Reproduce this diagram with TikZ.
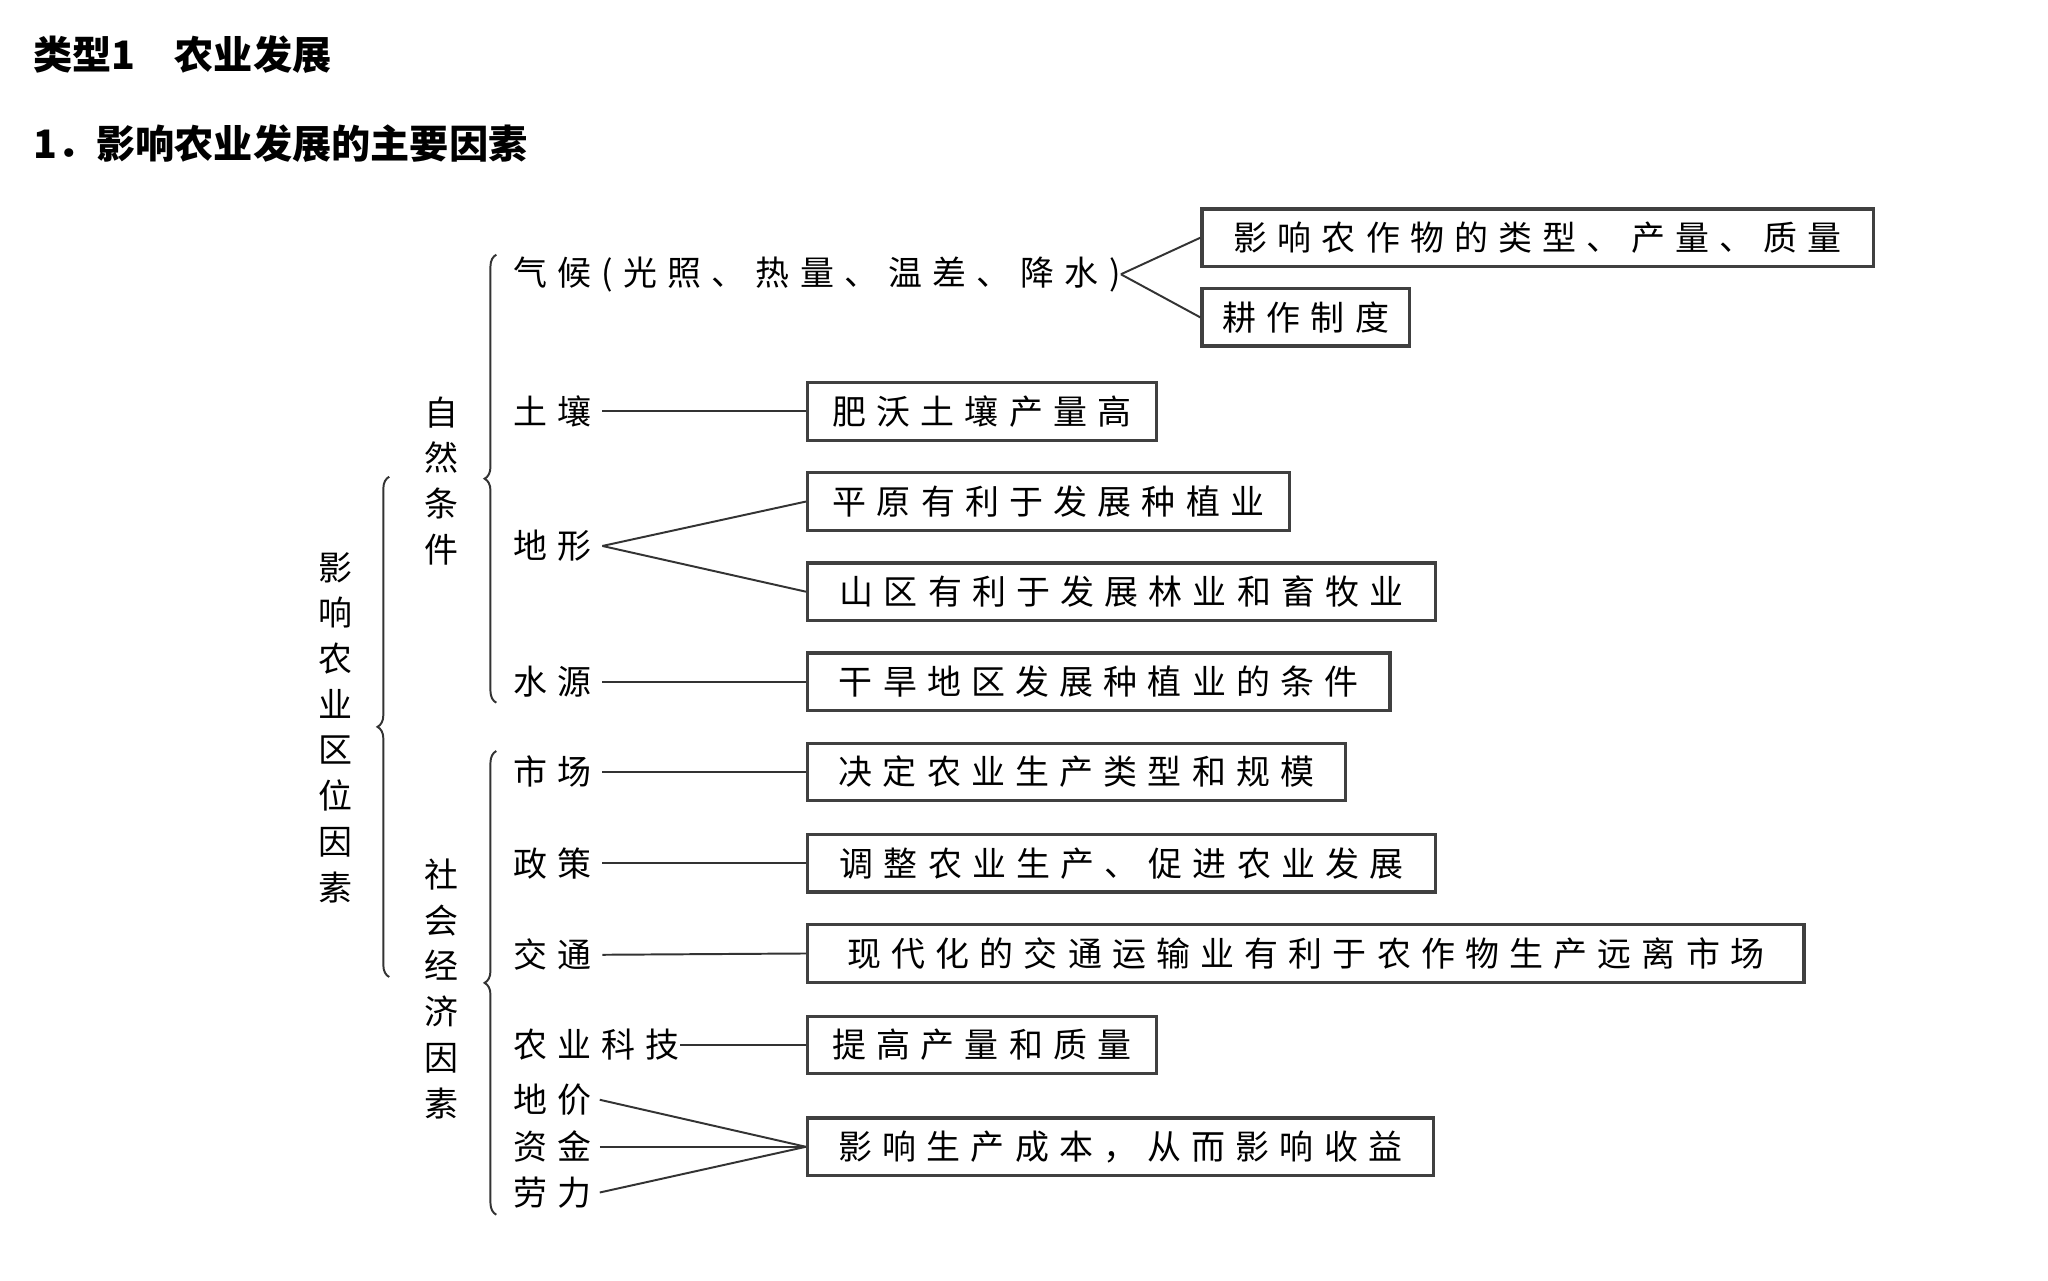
\documentclass[tikz,border=0pt]{standalone}
\usepackage{fontspec}
\setmainfont{Noto Sans CJK SC}
\usetikzlibrary{decorations.pathreplacing}
\newfontfamily\bodyf[LetterSpace=30]{Noto Sans CJK SC}
\begin{document}
\begin{tikzpicture}[x=1pt,y=-1pt,
  bx/.style={draw=black!75,line width=2.5pt,anchor=west,minimum height=44pt,inner xsep=8pt,inner ysep=0pt,font=\fontsize{26}{30}\selectfont\bodyf},
  it/.style={anchor=west,inner sep=0pt,font=\fontsize{26}{30}\selectfont\bodyf},
  vt/.style={align=center,inner sep=0pt,font=\fontsize{26}{35}\selectfont},
  ln/.style={line width=1.5pt,black!80},
  br/.style={decorate,decoration={brace,amplitude=9pt},line width=1.5pt,black!80}]
\useasboundingbox (0,0) rectangle (1568,980);
\fill[white] (0,0) rectangle (1568,980);
\node[anchor=west,font=\fontsize{30}{34}\selectfont\bfseries] (t1) at (22,42) {类型1\quad 农业发展};
\node[anchor=west,font=\fontsize{30}{34}\selectfont\bfseries] (t2) at (22,110) {1．影响农业发展的主要因素};
% braces
\coordinate (ob) at (298,748); \coordinate (ot) at (298,365);
\draw[br] (ob) -- (ot);
\node[vt] (ol) at (257,557) {影\\响\\农\\业\\区\\位\\因\\素};
\coordinate (nb) at (380,538); \coordinate (nt) at (380,195);
\draw[br] (nb) -- (nt);
\node[vt] (nl) at (338,368) {自\\然\\条\\件};
\coordinate (sb) at (380,930); \coordinate (st) at (380,575);
\draw[br] (sb) -- (st);
\node[vt] (sl) at (338,757) {社\\会\\经\\济\\因\\素};
% items
\node[it] (qh) at (393,210) {气候(光照、热量、温差、降水)};
\node[it] (tr) at (393,315) {土壤};
\node[it] (dx) at (393,418) {地形};
\node[it] (sy) at (393,522) {水源};
\node[it] (sc) at (393,591) {市场};
\node[it] (zc) at (393,661) {政策};
\node[it] (jt) at (393,731) {交通};
\node[it] (kj) at (393,800) {农业科技};
\node[it] (dj) at (393,842) {地价};
\node[it] (zj) at (393,878) {资金};
\node[it] (ll) at (393,913) {劳力};
% boxes
\node[bx,minimum width=514pt] (b1) at (919,182) {影响农作物的类型、产量、质量};
\node[bx,minimum width=159pt] (b2) at (919,243) {耕作制度};
\node[bx,minimum width=267pt] (b3) at (617,315) {肥沃土壤产量高};
\node[bx,minimum width=369pt] (b4) at (617,384) {平原有利于发展种植业};
\node[bx,minimum width=481pt] (b5) at (617,453) {山区有利于发展林业和畜牧业};
\node[bx,minimum width=446pt] (b6) at (617,522) {干旱地区发展种植业的条件};
\node[bx,minimum width=412pt] (b7) at (617,591) {决定农业生产类型和规模};
\node[bx,minimum width=481pt] (b8) at (617,661) {调整农业生产、促进农业发展};
\node[bx,minimum width=763pt] (b9) at (617,730) {现代化的交通运输业有利于农作物生产远离市场};
\node[bx,minimum width=267pt] (b10) at (617,800) {提高产量和质量};
\node[bx,minimum width=479pt] (b11) at (617,878) {影响生产成本，从而影响收益};
% connectors
\draw[ln] (qh.east) -- (b1.west); \draw[ln] (qh.east) -- (b2.west);
\draw[ln] ([xshift=8pt]tr.east) -- (b3.west);
\draw[ln] ([xshift=8pt]dx.east) -- (b4.west); \draw[ln] ([xshift=8pt]dx.east) -- (b5.west);
\draw[ln] ([xshift=8pt]sy.east) -- (b6.west);
\draw[ln] ([xshift=8pt]sc.east) -- (b7.west);
\draw[ln] ([xshift=8pt]zc.east) -- (b8.west);
\draw[ln] ([xshift=8pt]jt.east) -- (b9.west);
\draw[ln] (kj.east) -- (b10.west);
\draw[ln] ([xshift=6pt]dj.east) -- (b11.west);
\draw[ln] ([xshift=6pt]zj.east) -- (b11.west);
\draw[ln] ([xshift=6pt]ll.east) -- (b11.west);
\end{tikzpicture}
\end{document}
